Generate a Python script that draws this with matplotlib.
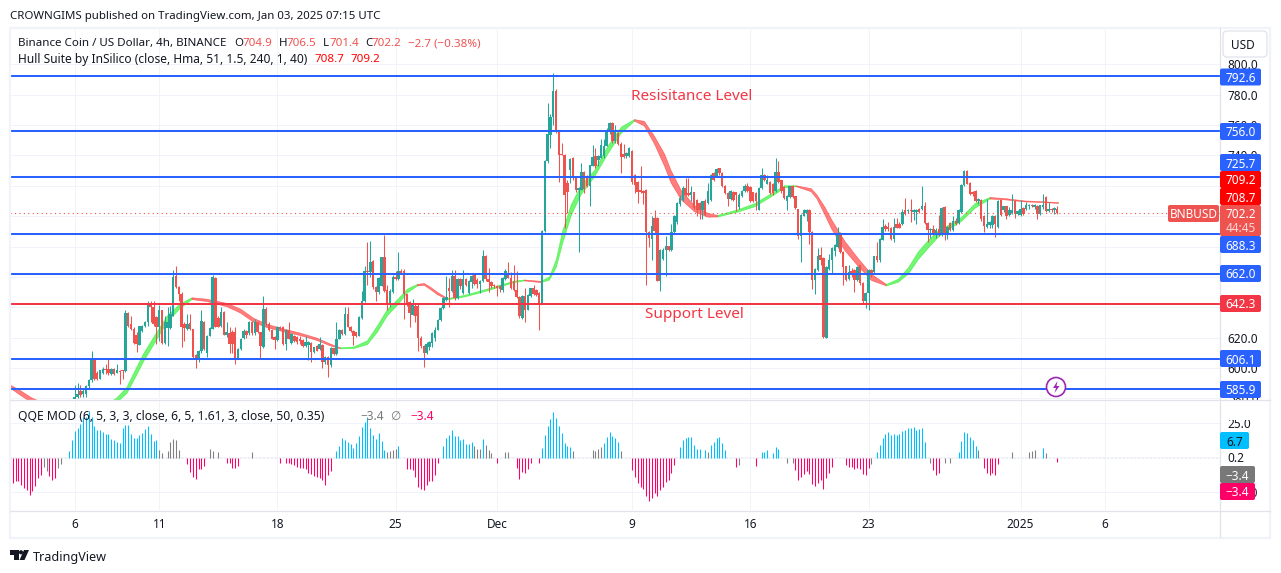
import matplotlib
matplotlib.use("Agg")
import matplotlib.pyplot as plt
import numpy as np
from matplotlib.patches import Rectangle, FancyBboxPatch, Circle, Polygon

# candles, 4h bars, bar 0 = Nov 6 00:00
opens = [
    579,581,585,583,583,588,592,605,597,593, 597,599.5,599.5,596,599.5,597,598,598.5,598,636,
    629,626,622,615.5,624.7,627.5,630,642.2,640,633.5, 627,637.9,616.4,626.5,626.5,634.6,660.9,653.6,649,629,
    625.8,629.5,625.8,608.3,606.7,611,630.2,609.8,621.4,626, 659.3,633,628,636.8,622,623,623.6,624,606.5,612.6,
    619.6,624.7,623,630.6,623,630.2,623.6,613.7,639,628.7, 625,620.3,618.5,627.3,626.9,615.9,625.2,616.4,621.4,620.3,
    619.2,618.5,614.8,615.5,616.4,610.5,614.8,612.6,615.5,604, 607.2,601.7,613,609,619.2,625.2,622.5,635.7,627.3,624.7,
    623.6,621.4,633,644,664,663,670.3,653.2,650,654.3, 672.9,651.5,641.2,650,660.2,658.7,664.2,664.2,648.8,643.3,
    635.2,641,641,620,614.8,609.8,613.7,616.5,620,625.3, 631.4,639.5,645,653,650.5,660.4,646,658.6,649.4,658.6,
    649.4,656.4,661.4,658.2,655.5,657,674,658.6,656.4,654.9, 654.2,653.8,651.6,658.6,662.6,659.3,657,651.6,646.8,632.9,
    647.2,638.4,647.2,652.7,651.6,649.4,642.8,690,736,753.6, 765.6,782.7,756.4,741,740.4,722,730.5,738,725.7,717,
    717.4,729.4,726.2,719.6,733.2,739.3,737.1,738.2,739.3,746.4, 755.1,761.2,749.2,754.7,747.6,740.9,739.3,739.3,742.6,727.2,
    722.2,717,716.3,717.4,689.7,684.9,699,699,657,671.8, 677.9,680.1,677.9,689.3,696,708.2,710.8,718.5,715.2,714.1,
    715.8,710.8,708.6,704.2,710.3,708.6,710.8,728.3,726.2,731.6, 728.3,720,715.2,711.2,715.6,715.6,706,713,716.3,719.6,
    719.2,715.6,715.2,704.2,718.5,727.2,721.4,722.2,721.4,716.3, 729.4,723.5,719,709.7,712.5,720,713,704.6,686.7,700.3,
    702,704.2,689.3,658.2,664.7,674.6,672.4,620,665.4,671.3, 677,679.7,689,676.4,667,658.9,664,664.3,658.2,667.6,
    656,644,649.4,664.3,663.3,673.6,670.9,684.5,693.3,692.8, 692.4,685.2,695,695,695,703.8,703.2,704.2,702.7,702.7,
    704.9,704.9,706.4,695.4,690.7,691.7,688,691.7,688,706, 687.4,695.4,691,696.6,695.5,702.7,720.3,729.5,721.8,715.9,
    716.3,710,710.4,699.9,692.8,693.9,693.9,699.9,692.8,710.4, 703.8,706.4,700.5,702,709.9,701.6,700.5,705.4,704.9,706.4,
    707.3,706,706.9,701.6,706,712.6,703.2,704.9,704.2,704.9,
]
closes = [
    581,583,582,585,588,592,605,593,592.5,598.5, 599.5,599,597,599.5,596,598.5,597.5,598,636,628,
    626,616.5,616,627.5,627.8,630.2,642.2,640,628.7,627.3, 637.9,616.4,630.2,630.2,635.7,660.2,653.6,648.8,626.9,626.5,
    629,625.8,607.2,606.7,611,630.8,612.6,621.4,626.5,660.2, 627.3,627.3,636.8,622,623.6,615.9,616,606.5,612.6,619.2,
    624.7,622,630.6,623,630.2,623.6,614.2,639,628.7,625, 619.4,618.5,626.9,625.8,615.9,625,619.2,622.5,618.1,617,
    618.1,614.8,617,617,610.5,613.7,611.5,615.9,603.9,607.2, 601.7,613,609,619.2,625.2,622.5,635.7,627.3,624.7,621.4,
    621.4,633.5,644.4,664.2,663,670,653.2,650,659.4,672.9, 651,641.2,651,660.2,658.7,664.2,662,648.8,642.2,636.1,
    642.7,634.5,620,614.8,609.8,615.9,617,623.1,625.3,631.4, 639.5,646,646.8,650.5,660.8,646,658.6,654.2,658.6,654.9,
    657,660.8,655.5,655.5,657.5,674,658.6,656.4,654.2,653.8, 652.7,652,659.3,663.7,659.3,652.7,651.6,646.8,634,647.6,
    638.4,648.3,652.7,649,648.3,642.8,690,736,754.2,765.6, 782.7,756.4,740.4,740.4,714.1,716,737.6,725,717,718.5,
    729.4,717.8,719.6,733.8,738.9,733.2,739.3,747,746.4,756.4, 761.2,749.2,755.1,747.6,738.7,738.7,741.5,744.8,722.2,720.7,
    715.6,715.6,715.2,689.3,685.6,693.7,690,657.5,677.9,677.9, 680.1,677.9,689.3,699.8,708.6,711.9,718.5,714,714.1,715.6,
    705.3,704.2,704.2,709.7,701,716.3,727.2,724,731,728.3, 719.6,715.2,711.2,716.3,710.8,714.1,714.1,716.3,720,716.3,
    709.7,709.7,709.7,718.5,727.2,723.5,723.5,715.2,715.2,729.4, 722.8,716.3,711.9,713,719.6,712.5,705.3,686.7,701,704.2,
    704.2,689.3,658.2,665.2,674,671.3,620.5,666.3,671.3,679.2, 680.8,688.5,676.4,666.5,657.8,663.2,662.7,658.2,666.5,656,
    644,649.4,664.3,662,673.6,670.9,684.7,692.8,691.7,691.5, 685.2,692.8,692.4,692.4,702.7,701.6,703.8,703.2,704.2,704.2,
    702.7,706.4,695.4,690.7,691.7,688,691,688,705.3,688, 692.8,691,696.8,694.6,703.8,720.7,729.5,721.3,714.8,714.8,
    710,711.5,698.3,693.5,695,696.1,699.9,694.6,710,700.5, 706.4,699.9,703.8,703.8,701.6,703.4,704.9,701.6,707.1,707.3,
    706.4,707.3,701.2,707.1,707.1,703.2,704.9,703.8,705.5,702.2,
]
highs = [
    589,590,589,586,589,593,611.5,606,598,599, 601,603,606,600,600,602.5,598.5,599,638.5,637,
    634.5,627,624,628,628.5,631,644.4,644.4,644.4,634, 641.8,638.5,634,640,641,664.6,667.5,654,650,630,
    635.7,635.7,626,609,612,637.9,631,622,627,661, 660,634,640,637.5,630,627.3,625,627.3,613,620,
    626,625,631,631,632,631,624,647.7,640,630, 626,621,627.5,628,627.5,626,630,623,622,621,
    621,619,621,618,617,614,615,620.7,616,608, 608,614,613.5,630.2,626,625.5,640,640.5,628,625,
    624,634,651,667,683,683.5,671,654,660,673, 687.9,655,652,661,664.2,676.7,665,665,649,644,
    645.5,642,642,621,615,617,618,624,627,632, 640,647,660.4,659,664.3,664.7,659,659,664.7,659,
    658,661,662,659,658,677.9,674.5,665.8,657,655.5, 655,654.5,660,665,670,663,668,663.6,647.5,648,
    652.7,649,653,655,652,650,691,737,774.8,767, 794.1,784,757,748.1,741,724,738,739,726,719,
    734.9,730,727,734,747,744.8,740,751,750.7,758, 762,762,760,755.5,748.5,747.6,742,745.5,743.5,728,
    723,732.7,717,718,690,699.8,704,699.5,678.5,679, 686.7,680.5,695,700.5,709,714,720,725,725,719.6,
    716,711.5,709,710,711,721.8,728,729,732,732, 729,720.5,716,717,716.5,716,715,717,721,722,
    720,716,716,719,731.6,728,727,723,722,738.2, 736,724,720,714,720,720.5,713.5,705,701.5,705,
    705,705,690,666,679,680,673,667,675,680, 681.5,693,689.5,677,667.5,667.6,666,665,667,668,
    656.5,650,665,665,674,683,685.5,698.3,695,696, 693,699,699,696,705,712.2,704.5,711.5,705,705,
    705.5,719.6,709.3,696,692,694,692,700.5,706,706.5, 693.5,696,700,699,704.5,721,730.5,730.5,722.5,716.5,
    717,712,711,700.5,711.5,697,700.5,700.5,710.5,711, 707,707,706,714.3,710.5,704,710.4,706,709.3,708,
    708,708,707.5,707.6,714.8,713.5,709.3,705.5,706,706.5,
]
lows = [
    578,580,581,581,581,587,591,592,592,592.5, 596,596,595.5,595.5,595.5,596.5,589.5,593,597.5,627,
    625,616,610.5,615,624,627,628,630.2,628,616, 618,616,615.9,614.8,626,634,653,644.4,613.7,618,
    625,625,606.5,600,604,610,612,607.2,621,625.8, 627,627,627,621.5,620.5,609.8,610,602.8,606,612,
    619,620,622,622,622,623,606,613,628,624.5, 619,612.6,618,625,615.5,612,619,616,617,616,
    616,614,614,605.4,604,610,611,612,600,603, 594,600.6,608.5,608.5,619,622,622,627,624,615,
    620.5,621,632.5,643.5,655,660,652,644,649,654, 650,637.9,640.5,649.5,658,658,662,632.4,641,626.9,
    635,630,611.5,613,600.6,609,612,614,618,625, 631,639,644,640,650,645,645.5,652,649,654,
    649,653,655,653,649.4,656.5,657,650,653,653, 647.2,650,650,658,659,652,651,646,633,632.5,
    630,638,647,648,647.5,625.3,642.5,689.5,735,745, 760,755,722.2,740,692,702,722,724,716,676.2,
    717,715.2,719,706.4,733,732,733,738,738.5,746, 754,748,748,747,728.3,738,738.5,739,721,715,
    708.6,715,708,654.5,680,671,689,657,651,671, 660.4,677,677,688,695,707,710,713,713,710,
    705,700,698,698,700,708,710,723,726,727, 719,714.5,706.4,710.5,710,703.1,705,712.5,716,716,
    709,709,704,704,718,723,721,714.5,714,716, 722,715.5,711,703.8,712,712,705,685,669.6,700,
    697,681.9,652.3,649,664,668,620,619.5,664.5,662, 674,679,676,654.5,657,658,660,650,657.5,655,
    642.5,639.8,638.4,660,662,670,670,684,690,690, 684.5,683,692,692,694,701,702,696,697.8,695,
    702,704,695,683,685.8,687.5,685.8,687,687,684, 685.2,690,690.5,694,695,702,720,721,714,713,
    709,708,697,689.6,692,692,692,686.3,692,700, 703,698,700,701.5,699,701,700,701,704,705,
    706,705,698.3,701,705,702.5,702.5,703,701.2,701.4,
]

# hull band, one knot per row: bar, middle, band height
hull_bars = [-23,-19.6,-15.3,3, 14.8,18.4,21.9,24.3,27.9,32.6,37.4,41.5,
             46.8,53.9,58.7,63.5,68.2,74.1,80,86,90.7,94.3,
             99,103.8,107.3,110.9,114.4,118,121.6, 124,126.3,128.7,132.3,
             138.2,144.1,150.1,156,159.6, 165.5,
             168.5,170.9,173.2,176.2,179.7,184.5,189.2,194,198.7,
             202.2,205.8,209.4,211.7,215.3,220,224.8,228.3,
             235.5,241.4,247.3,252,256.2,
             261.5,263.5,266.3,268.7,273.4,278.2,282.9,288.2,
             292.4,296,299.5,303.1,306.6,310.2,314.9,319.7,325,
             330.3,337.5,344.6,349.3]
hull_mid = [588.1,584.1,579,566, 579.1,585.7,598.4,607.2,618.1,632.4,641.2,646,
            644.9,641.8,637.9,631.7,628,625.1,622.5,619.2,615.5,613.3,
            613.7,617,625.8,636.8,643.3,651,654.9, 655.4,652.7,649.4,645.7,
            647.6,650.5,653.8,657.1,658, 657,
            659.3,669.1,686.7,704.2,717.4,728.3,743.7,756.9,763.4,
            761.2,750.3,737.1,726.2,714.1,705.3,700.9,700.3,
            703.8,707.5,714.1,719.6,720,
            717.4,713,703.8,695,680.8,669.8,660,654.9,
            657.8,664.3,674.2,681.9,688.5,692.8,698.3,707.1,712.1,
            711.5,710,709.5,708.95]
hull_gap = [2,3,3,1, 3,4,5,5,5,4,3,1.2,
            1.5,2.2,2.6,2.6,2.2,1.8,1.6,1.5,1.2,0.6,
            1,2.5,4,4,3.5,2.5,1, 1.2,1.5,1.5,0.8,
            1,1.2,1.2,1,0.6, 0.8,
            2,5,8,7,6,4,5,4,1,
            3,5,8,8,6,4,2.5,1,
            1.5,2,2,1.5,0.6,
            2,2.5,5,6,6,5,4,1,
            2,4,5,5,4,3,2.5,3,1,
            0.8,0.6,0.5,0.5]
# knot index where the trend flips, first stretch is falling
hull_turns = [0,3,11,21,28,32,37,38,47,55,60,68,77,81]

qqe_blue_bars = (list(range(-2,30)) + list(range(93,111)) + [115] + list(range(131,142)) + [145]
                 + list(range(166,177)) + list(range(188,194)) + list(range(215,223)) + [224]
                 + list(range(226,232)) + [244,245,246,248,249,250] + list(range(285,303))
                 + list(range(314,321)) + [344])
qqe_blue = [4.5,12.9,18.9,21.5,24.3,29.1,29.1,33.4,29.1,22.4,20,19.6,18.1,16.7,16.7,13.6,12.4,11.2,10.7,21.2,
            23.2,23.2,17.2,14.1,14.3,16,17.7,20.8,22.7,17.2,11.9,12.9,
            4.5,8.4,14.3,12.9,11.2,10,6.9,10.5,15.5,22,25.5,29.1,21.5,16.5,13.6,17.9,11.9,5.3,
            8.1,
            8.1,14.3,16.5,20,15.3,15.3,12.9,13.6,9.5,9.5,11,
            13.1,
            6.7,16,22.4,27.9,32.5,28.4,22.4,17.9,10.5,8.1,7.4,
            10.5,14.8,18.1,15.3,14.3,11,
            7.4,12.4,13.8,14.6,14.6,8.8,6,6,
            5.3,
            8.8,11,13.8,14.6,10.3,5.3,
            3.8,3.8,5.3,3.1,7.4,6,
            3.8,8.8,13.8,16.7,18.1,16,16.7,16,16.7,18.9,19.6,21,21,21.7,19.6,20.3,21,11.2,
            3.8,11.7,18.1,17.4,14.6,12.4,8.1,
            6.7]
qqe_pink_bars = (list(range(-23,-11)) + [-9,-8,-7] + list(range(40,47)) + list(range(54,59)) + [73]
                 + list(range(75,92)) + list(range(118,130)) + [150] + list(range(157,163)) + [165]
                 + list(range(198,214)) + [235,242] + list(range(256,270)) + list(range(274,283))
                 + [305,306,307] + list(range(323,329)) + [349])
qqe_pink = [-13.8,-18.1,-16.7,-16.9,-19.8,-22.2,-23.4,-26.7,-23.9,-20.5,-14.8,-12.6,
            -13.4,-16.2,-15,
            -4.8,-10.7,-13.8,-15.5,-8.4,-8.4,-6.2,
            -4.3,-3.8,-7.4,-7.4,-6,
            -3.8,
            -3.8,-4.3,-4.8,-5.3,-6.7,-7.4,-7.9,-8.6,-11.5,-11.9,-13.1,-14.3,-15,-16.2,-19.8,-12.6,-9.5,
            -8.4,-8.4,-9.1,-14.3,-21,-22.9,-23.4,-19.8,-17,-16.7,-12.6,-4.3,
            -4.3,
            -7.4,-15.3,-10.3,-11,-8.4,-4.3,
            -3.8,
            -8.8,-13.8,-18.1,-21.5,-22.9,-27.4,-31,-29.4,-25.8,-27.4,-23.4,-21,-17.4,-16.2,-11,-5.3,
            -6.7,-6,
            -9.1,-16.2,-13.8,-11.9,-9.5,-11.9,-19,-20.5,-18.1,-16.2,-22.4,-15,-11,-6.7,
            -5.5,-6.7,-6.9,-8.6,-7.2,-8.4,-11.9,-12.6,-7.4,
            -9.1,-12.6,-11,
            -7.4,-11,-12.6,-11,-12.6,-4.8,
            -3.4]
qqe_grey_bars = [-11,-10,-6,-5,30,31,33,34,35,36,37,48,49,51,63,111,112,113,114,142,143,144,146,147,148,
                 153,154,177,184,185,186,187,194,225,236,253,255,283,304,309,311,321,333,339,340,341,345]
qqe_grey = [-6.7,-9.8,-7.9,-4.8,5.3,3.3,4.5,11.5,13.1,12.4,5.3,6,4.5,3.6,4.1,4.1,4.5,5.3,6.4,8.1,6.4,6.4,8.8,5.7,3.3,
            3.8,3.8,4.5,5.3,4.5,6,7.6,4.5,3.8,-5.3,-4.3,-4.3,-4.8,-3.8,-3.8,-3.8,5.3,3.8,3.8,4.5,5.3,3.1]

blue_levels = [792.6,756.0,725.7,688.3,662.0,606.1,585.9]
support_level = 642.3
last_close = 702.2
price_ticks = [580,600,620,640,660,680,700,720,740,760,780,800]
qqe_ticks = [25,0.2,-25]
qqe_tick_labels = ["25.0","0.2","\u221225.0"]
day_ticks = [0,30,72,114,150,198,240,282,336,366]
day_labels = ["6","11","18","25","Dec","9","16","23","2025","6"]

W, H = 1281, 573
UP, DOWN = "#26A69A", "#EF5350"
BLUE, RED = "#2962FF", "#F23645"
INK = "#131722"
GRID = "#F0F3FA"
plt.rcParams["font.family"] = ["Noto Sans", "DejaVu Sans"]
FS = 8.5

fig = plt.figure(figsize=(W/100, H/100), dpi=100, facecolor="white")

def px_axes(x0, y0, x1, y1):
    return fig.add_axes([x0/W, 1-y1/H, (x1-x0)/W, (y1-y0)/H])

ax = px_axes(10, 28, 1219.5, 399)
qx = px_axes(10, 400, 1219.5, 510)
ax.set_zorder(1); qx.set_zorder(2)

bar_left, bar_right = (10-74.7)/2.815, (1219.5-74.7)/2.815

# price panel
bars = np.arange(len(closes))
o = np.array(opens); c = np.array(closes); h = np.array(highs); l = np.array(lows)
cols = np.where(c >= o, UP, DOWN)

ax.set_xticks(day_ticks); ax.set_xticklabels([])
ax.set_yticks(price_ticks)
ax.set_yticklabels(["%.1f" % p for p in price_ticks], fontsize=FS, color=INK)
ax.yaxis.tick_right()
ax.tick_params(length=0, pad=6)
ax.grid(color=GRID, lw=0.72, zorder=0)
ax.set_axisbelow(True)

hb = np.array(hull_bars); hm = np.array(hull_mid); hg = np.array(hull_gap)
for i in range(len(hull_turns)):
    a = hull_turns[i]
    b = hull_turns[i+1] if i+1 < len(hull_turns) else len(hb)-1
    col = "#FF3030" if i % 2 == 0 else "#20F020"
    ax.fill_between(hb[a:b+1], hm[a:b+1]-hg[a:b+1]/2, hm[a:b+1]+hg[a:b+1]/2,
                    color=col, alpha=0.62, lw=0.5, zorder=2)

wicks = ax.vlines(bars, l, h, colors=cols, lw=0.75, zorder=3)
wicks.set_snap(True)
ax.bar(bars, np.maximum(np.abs(c-o), 0.7), bottom=np.minimum(o, c), width=0.88, color=cols, zorder=3)

ax.axhline(last_close, color=DOWN, lw=0.8, ls=(0, (1, 3)), zorder=3)
for p in blue_levels:
    ax.axhline(p, color=BLUE, lw=1.45, zorder=4)
ax.axhline(support_level, color=RED, lw=1.45, zorder=4)

ax.set_xlim(bar_left, bar_right)
ax.set_ylim(792.6-(399-75.5)/1.519, 792.6+(75.5-28)/1.519)
for s in ax.spines.values():
    s.set_visible(False)

# QQE panel
qx.set_xticks(day_ticks); qx.set_xticklabels(day_labels, fontsize=FS, color=INK)
qx.get_xticklabels()[8].set_fontweight("bold")
qx.set_yticks(qqe_ticks); qx.set_yticklabels(qqe_tick_labels, fontsize=FS, color=INK)
qx.yaxis.tick_right()
qx.tick_params(length=0)
qx.tick_params(axis="y", pad=6)
qx.tick_params(axis="x", pad=6)
qx.grid(color=GRID, lw=0.72, zorder=0)
qx.set_axisbelow(True)
qx.axhline(0, color="#E8EAF0", lw=0.7, ls=(0, (2, 2)), zorder=1)
for xs, vals, col in [(qqe_blue_bars, qqe_blue, "#00BFFF"), (qqe_pink_bars, qqe_pink, "#FF0066"),
                      (qqe_grey_bars, qqe_grey, "#808080")]:
    lines = qx.vlines(xs, 0, vals, color=col, lw=0.78, zorder=3)
    lines.set_snap(True)
qx.set_xlim(bar_left, bar_right)
qx.set_ylim(-(510-457.5)/1.39, (457.5-400)/1.39)
for s in qx.spines.values():
    s.set_visible(False)

# chrome and labels, in image pixels
ov = fig.add_axes([0, 0, 1, 1], zorder=5)
ov.set_xlim(0, W); ov.set_ylim(H, 0); ov.axis("off"); ov.patch.set_alpha(0)

ov.add_patch(Rectangle((1220, 400), 50, 20, fc="white", ec="none", zorder=1))
ov.add_patch(Rectangle((10, 27.5), 1260, 510, fc="none", ec=GRID, lw=1.6, zorder=2))
ov.plot([10, 1270], [399.5, 399.5], color="#E0E3EB", lw=0.9, zorder=2)
ov.plot([10, 1270], [510.5, 510.5], color="#E0E3EB", lw=0.9, zorder=2)
ov.plot([1219.5, 1219.5], [28, 537], color="#E0E3EB", lw=0.9, zorder=2)

def tag(x0, x1, yc, text, bg, fg="white", height=17):
    ov.add_patch(FancyBboxPatch((x0, yc-height/2), x1-x0, height, boxstyle="round,pad=0,rounding_size=2",
                                fc=bg, ec="none", zorder=3))
    ov.text((x0+x1)/2, yc, text, color=fg, fontsize=FS, ha="center", va="center_baseline", zorder=4)

for txt, y in [("792.6", 77), ("756.0", 131.5), ("725.7", 162.5), ("688.3", 244.5), ("662.0", 273.5),
               ("606.1", 358.5), ("585.9", 389.5)]:
    tag(1220, 1261, y, txt, BLUE)
tag(1220, 1261, 303.5, "642.3", RED)
tag(1220, 1261, 179.5, "709.2", "#FF0000")
tag(1220, 1261, 196.5, "708.7", "#FF0000")
tag(1220, 1261, 220.5, "", DOWN, height=31)
ov.text(1240.5, 213.5, "702.2", color="white", fontsize=FS, ha="center", va="center_baseline", zorder=4)
ov.text(1240.5, 227.5, "44:45", color="#F9D5D4", fontsize=FS, ha="center", va="center_baseline", zorder=4)
tag(1168, 1219, 213.5, "BNBUSD", DOWN)
tag(1220, 1249, 440.5, "6.7", "#00BFFF", fg=INK)
tag(1220, 1255, 474.5, "\u22123.4", "#787878")
tag(1220, 1255, 491.5, "\u22123.4", "#FF0066")

ov.add_patch(FancyBboxPatch((1223, 31), 44, 26, boxstyle="round,pad=0,rounding_size=4",
                            fc="white", ec="#E0E3EB", lw=0.9, zorder=3))
ov.text(1243, 44, "USD", color=INK, fontsize=FS, ha="center", va="center_baseline", zorder=4)

ov.text(10, 15, "CROWNGIMS published on TradingView.com, Jan 03, 2025 07:15 UTC", color=INK,
        fontsize=8.25, va="center_baseline")
ov.text(18, 42, "Binance Coin / US Dollar, 4h, BINANCE", color=INK, fontsize=8.35, va="center_baseline")
for x, txt, col in [(234, "O", INK), (243, "704.9", DOWN), (279, "H", INK), (287, "706.5", DOWN),
                    (323, "L", INK), (329.5, "701.4", DOWN), (365, "C", INK), (372, "702.2", DOWN),
                    (408, "\u22122.7 (\u22120.38%)", DOWN)]:
    ov.text(x, 42, txt, color=col, fontsize=8.3, va="center_baseline")
ov.text(18, 58.5, "Hull Suite by InSilico (close, Hma, 51, 1.5, 240, 1, 40)", color=INK, fontsize=8.6, va="center_baseline")
ov.text(315, 58.5, "708.7", color="#FF0000", fontsize=8.3, va="center_baseline")
ov.text(351, 58.5, "709.2", color="#FF0000", fontsize=8.3, va="center_baseline")
ov.text(18, 415, "QQE MOD (6, 5, 3, 3, close, 6, 5, 1.61, 3, close, 50, 0.35)", color=INK, fontsize=8.75, va="center_baseline")
ov.text(360, 415, "\u22123.4", color="#787878", fontsize=8.5, va="center_baseline")
ov.text(390, 415, "\u2205", color="#787878", fontsize=8.5, va="center_baseline")
ov.text(410, 415, "\u22123.4", color="#FF0066", fontsize=8.5, va="center_baseline")

ov.text(692, 94, "Resisitance Level", color=RED, fontsize=11, ha="center", va="center_baseline", zorder=4)
ov.text(694, 313, "Support Level", color=RED, fontsize=11, ha="center", va="center_baseline", zorder=4)

ov.add_patch(Circle((1056, 387), 9.5, fc="white", ec="#9C27B0", lw=1.2, zorder=3))
ov.add_patch(Polygon([(1057.5, 381), (1053, 388), (1056, 388), (1054.5, 393), (1059.5, 386), (1056.5, 386)],
                     fc="#9C27B0", ec="none", zorder=4))

# TradingView logo
ov.add_patch(Polygon([(10, 550), (18.5, 550), (18.5, 560), (13.5, 560), (13.5, 554.5), (10, 554.5)], fc=INK, ec="none"))
ov.add_patch(Circle((21, 552.3), 2.1, fc=INK, ec="none"))
ov.add_patch(Polygon([(24, 550), (29, 550), (24.5, 560), (19.5, 560)], fc=INK, ec="none"))
ov.text(33, 555.5, "TradingView", color=INK, fontsize=9.05, va="center_baseline")

fig.savefig("out.png", dpi=100)
